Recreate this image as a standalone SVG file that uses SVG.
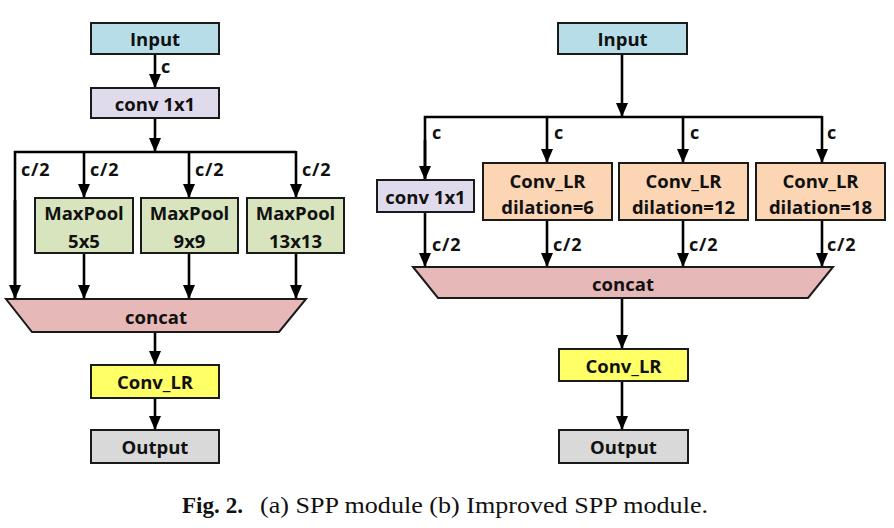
<svg xmlns="http://www.w3.org/2000/svg" width="894" height="528" viewBox="0 0 894 528">
<style>
.box{stroke:#1a1a1a;stroke-width:2}
.t{font-family:"Open Sans","Liberation Sans",sans-serif;font-weight:bold;font-size:18.5px;fill:#111;text-anchor:middle;dominant-baseline:central}
.lbl{font-family:"Open Sans","Liberation Sans",sans-serif;font-weight:bold;font-size:18px;fill:#111;letter-spacing:0.8px}
.ln{stroke:#000;stroke-width:2.6;fill:none}
.cap{font-family:"Liberation Serif","DejaVu Serif",serif;font-size:23px;fill:#111}
</style>
<defs>
<marker id="ah" markerUnits="userSpaceOnUse" markerWidth="14" markerHeight="14" viewBox="0 0 14 14" refX="14" refY="7" orient="auto">
<path d="M0,1 L14,7 L0,13 Z" fill="#000"/>
</marker>
</defs>
<rect width="894" height="528" fill="#fff"/>

<g id="connectors">
<!-- left -->
<line class="ln" x1="155" y1="54" x2="155" y2="88" marker-end="url(#ah)"/>
<line class="ln" x1="155" y1="118" x2="155" y2="152" marker-end="url(#ah)"/>
<path class="ln" d="M15,299 V152 H296"/>
<line class="ln" x1="15" y1="200" x2="15" y2="299" marker-end="url(#ah)"/>
<line class="ln" x1="84" y1="152" x2="84" y2="198" marker-end="url(#ah)"/>
<line class="ln" x1="189" y1="152" x2="189" y2="198" marker-end="url(#ah)"/>
<line class="ln" x1="296" y1="151" x2="296" y2="198" marker-end="url(#ah)"/>
<line class="ln" x1="84" y1="253" x2="84" y2="299" marker-end="url(#ah)"/>
<line class="ln" x1="189" y1="253" x2="189" y2="299" marker-end="url(#ah)"/>
<line class="ln" x1="296" y1="253" x2="296" y2="299" marker-end="url(#ah)"/>
<line class="ln" x1="155" y1="332" x2="155" y2="365" marker-end="url(#ah)"/>
<line class="ln" x1="155" y1="398" x2="155" y2="430" marker-end="url(#ah)"/>
<!-- right -->
<line class="ln" x1="622" y1="54" x2="622" y2="117" marker-end="url(#ah)"/>
<path class="ln" d="M425,180 V117 H822"/>
<line class="ln" x1="425" y1="140" x2="425" y2="180" marker-end="url(#ah)"/>
<line class="ln" x1="547" y1="117" x2="547" y2="163" marker-end="url(#ah)"/>
<line class="ln" x1="683" y1="117" x2="683" y2="163" marker-end="url(#ah)"/>
<line class="ln" x1="822" y1="116" x2="822" y2="163" marker-end="url(#ah)"/>
<line class="ln" x1="425" y1="212" x2="425" y2="267" marker-end="url(#ah)"/>
<line class="ln" x1="547" y1="220" x2="547" y2="267" marker-end="url(#ah)"/>
<line class="ln" x1="683" y1="220" x2="683" y2="267" marker-end="url(#ah)"/>
<line class="ln" x1="822" y1="220" x2="822" y2="267" marker-end="url(#ah)"/>
<line class="ln" x1="622" y1="298" x2="622" y2="349" marker-end="url(#ah)"/>
<line class="ln" x1="622" y1="381" x2="622" y2="430" marker-end="url(#ah)"/>
<!-- labels -->
<text class="lbl" x="161" y="73">c</text>
<text class="lbl" x="21" y="176">c/2</text>
<text class="lbl" x="90" y="176">c/2</text>
<text class="lbl" x="195" y="176">c/2</text>
<text class="lbl" x="302" y="176">c/2</text>
<text class="lbl" x="432" y="139">c</text>
<text class="lbl" x="554" y="139">c</text>
<text class="lbl" x="690" y="139">c</text>
<text class="lbl" x="827" y="139">c</text>
<text class="lbl" x="432" y="251">c/2</text>
<text class="lbl" x="553" y="251">c/2</text>
<text class="lbl" x="689" y="251">c/2</text>
<text class="lbl" x="827" y="251">c/2</text>
</g>

<!-- left panel nodes -->
<g id="a-input"><rect class="box" x="91" y="23" width="128" height="31" fill="#b7dde8"/><text class="t" x="155" y="38.5">Input</text></g>
<g id="a-conv1x1"><rect class="box" x="91" y="88" width="128" height="30" fill="#e0dbec"/><text class="t" x="155" y="103">conv 1x1</text></g>
<g id="a-maxpool5"><rect class="box" x="35" y="198" width="98" height="55" fill="#d7e4bd"/><text class="t" x="84" y="212">MaxPool</text><text class="t" x="84" y="240">5x5</text></g>
<g id="a-maxpool9"><rect class="box" x="141" y="198" width="97" height="55" fill="#d7e4bd"/><text class="t" x="189.5" y="212">MaxPool</text><text class="t" x="189.5" y="240">9x9</text></g>
<g id="a-maxpool13"><rect class="box" x="247" y="198" width="97" height="55" fill="#d7e4bd"/><text class="t" x="295.5" y="212">MaxPool</text><text class="t" x="295.5" y="240">13x13</text></g>
<g id="a-concat"><path class="box" d="M6,299 H306 L279,332 H32 Z" fill="#e6b9b8"/><text class="t" x="156" y="316">concat</text></g>
<g id="a-convlr"><rect class="box" x="91" y="365" width="128" height="33" fill="#ffff66"/><text class="t" x="155" y="381.5">Conv_LR</text></g>
<g id="a-output"><rect class="box" x="91" y="430" width="128" height="33" fill="#d9d9d9"/><text class="t" x="155" y="446.5">Output</text></g>

<!-- right panel nodes -->
<g id="b-input"><rect class="box" x="558" y="23" width="129" height="31" fill="#b7dde8"/><text class="t" x="622.5" y="38.5">Input</text></g>
<g id="b-conv1x1"><rect class="box" x="377" y="180" width="97" height="32" fill="#e0dbec"/><text class="t" x="425.5" y="196">conv 1x1</text></g>
<g id="b-d6"><rect class="box" x="483" y="163" width="129" height="57" fill="#fcd5b5"/><text class="t" x="547.5" y="180">Conv_LR</text><text class="t" x="547.5" y="206">dilation=6</text></g>
<g id="b-d12"><rect class="box" x="619" y="163" width="129" height="57" fill="#fcd5b5"/><text class="t" x="683.5" y="180">Conv_LR</text><text class="t" x="683.5" y="206">dilation=12</text></g>
<g id="b-d18"><rect class="box" x="756" y="163" width="129" height="57" fill="#fcd5b5"/><text class="t" x="820.5" y="180">Conv_LR</text><text class="t" x="820.5" y="206">dilation=18</text></g>
<g id="b-concat"><path class="box" d="M413,267 H833 L808,298 H438 Z" fill="#e6b9b8"/><text class="t" x="623" y="283">concat</text></g>
<g id="b-convlr"><rect class="box" x="559" y="349" width="129" height="32" fill="#ffff66"/><text class="t" x="623.5" y="365">Conv_LR</text></g>
<g id="b-output"><rect class="box" x="559" y="430" width="129" height="33" fill="#d9d9d9"/><text class="t" x="623.5" y="446.5">Output</text></g>

<text class="cap" x="182" y="513"><tspan font-weight="bold" textLength="61" lengthAdjust="spacingAndGlyphs">Fig. 2.</tspan><tspan x="260" textLength="448" lengthAdjust="spacingAndGlyphs">(a) SPP module (b) Improved SPP module.</tspan></text>
</svg>
